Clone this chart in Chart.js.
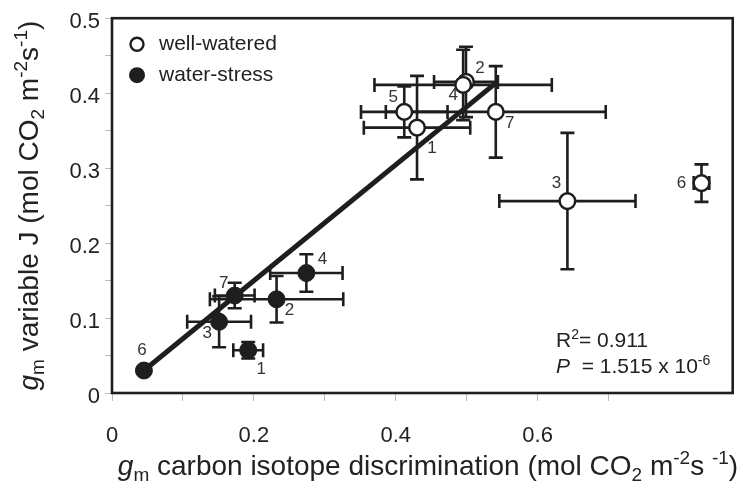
<!DOCTYPE html>
<html>
<head>
<meta charset="utf-8">
<script src="https://cdn.jsdelivr.net/npm/chart.js@4.4.1/dist/chart.umd.min.js"></script>
<style>
  html, body { margin: 0; padding: 0; background: #fff; }
  #wrap { width: 743px; height: 490px; }
</style>
</head>
<body>
<div id="wrap"><canvas id="gmChart" width="743" height="490"></canvas></div>
<script>
// well-watered plants (open circles), numbered 1..7
var wellIds   = [1, 2, 3, 4, 5, 6, 7];
var wellX     = [0.430, 0.499, 0.642, 0.495, 0.412, 0.831, 0.541];
var wellY     = [0.354, 0.415, 0.256, 0.411, 0.375, 0.280, 0.375];
var wellXErr  = [0.075, 0.045, 0.096, 0.125, 0.061, 0.011, 0.155];
var wellYErr  = [0.069, 0.047, 0.091, 0.047, 0.034, 0.025, 0.061];

// water-stressed plants (filled circles)
var stressIds  = [1, 2, 3, 4, 6, 7];
var stressX    = [0.192, 0.232, 0.151, 0.274, 0.045, 0.173];
var stressY    = [0.057, 0.125, 0.095, 0.160, 0.030, 0.130];
var stressXErr = [0.021, 0.094, 0.045, 0.051, 0.005, 0.028];
var stressYErr = [0.011, 0.031, 0.034, 0.025, 0.005, 0.017];

// regression line end points
var fitX = [0.045, 0.543];
var fitY = [0.030, 0.415];

var xTickLabels = ['0', '0.2', '0.4', '0.6'];
var yTickLabels = ['0', '0.1', '0.2', '0.3', '0.4', '0.5'];
var rSquared = '0.911';
var pValue = '1.515 x 10';
var pExp = '-6';

var ink = '#1e1e1e';
var txt = '#222';
var fam = '"Liberation Sans", Arial, Helvetica, sans-serif';

// where each number sits next to its marker (pixels)
var wellLabelOff   = { 1: [15, 21], 2: [14, -14], 3: [-11, -18], 4: [-10, 10], 5: [-11, -15], 6: [-20, 0], 7: [14, 11] };
var stressLabelOff = { 1: [13, 19], 2: [13, 11], 3: [-12, 12], 4: [16, -14], 6: [-2, -20], 7: [-11, -12] };

function pts(xs, ys) {
  return xs.map(function (x, i) { return { x: x, y: ys[i] }; });
}

function partFont(p, size) {
  var s = (p.k === 'sub' || p.k === 'sup') ? size * 0.68 : size;
  return (p.k === 'i' ? 'italic ' : '') + Math.round(s) + 'px ' + fam;
}
function richWidth(ctx, parts, size) {
  var w = 0;
  parts.forEach(function (p) { ctx.font = partFont(p, size); w += ctx.measureText(p.t).width; });
  return w;
}
function drawRich(ctx, parts, x, y, size) {
  var cx = x;
  ctx.textAlign = 'left';
  ctx.textBaseline = 'alphabetic';
  parts.forEach(function (p) {
    ctx.font = partFont(p, size);
    var dy = p.k === 'sub' ? size * 0.22 : (p.k === 'sup' ? -size * 0.4 : 0);
    ctx.fillText(p.t, cx, y + dy);
    cx += ctx.measureText(p.t).width;
  });
}

function errorBars(ctx, sx, sy, xs, ys, xe, ye) {
  var cap = 7;
  for (var i = 0; i < xs.length; i++) {
    var px = sx.getPixelForValue(xs[i]), py = sy.getPixelForValue(ys[i]);
    var x0 = sx.getPixelForValue(xs[i] - xe[i]), x1 = sx.getPixelForValue(xs[i] + xe[i]);
    var y0 = sy.getPixelForValue(ys[i] - ye[i]), y1 = sy.getPixelForValue(ys[i] + ye[i]);
    ctx.beginPath();
    ctx.moveTo(x0, py); ctx.lineTo(x1, py);
    ctx.moveTo(px, y0); ctx.lineTo(px, y1);
    ctx.moveTo(x0, py - cap); ctx.lineTo(x0, py + cap);
    ctx.moveTo(x1, py - cap); ctx.lineTo(x1, py + cap);
    ctx.moveTo(px - cap, y0); ctx.lineTo(px + cap, y0);
    ctx.moveTo(px - cap, y1); ctx.lineTo(px + cap, y1);
    ctx.stroke();
  }
}

function numberLabels(ctx, sx, sy, ids, xs, ys, off) {
  ctx.font = '17px ' + fam;
  ctx.fillStyle = '#333';
  ctx.textAlign = 'center';
  ctx.textBaseline = 'middle';
  for (var i = 0; i < ids.length; i++) {
    var o = off[ids[i]];
    ctx.fillText(String(ids[i]), sx.getPixelForValue(xs[i]) + o[0], sy.getPixelForValue(ys[i]) + o[1]);
  }
}

var decor = {
  id: 'decor',
  beforeDatasetsDraw: function (chart) {
    var ctx = chart.ctx, sx = chart.scales.x, sy = chart.scales.y;
    ctx.save();
    ctx.strokeStyle = ink;
    ctx.lineWidth = 2.6;
    errorBars(ctx, sx, sy, wellX, wellY, wellXErr, wellYErr);
    errorBars(ctx, sx, sy, stressX, stressY, stressXErr, stressYErr);
    ctx.restore();
  },
  afterDatasetsDraw: function (chart) {
    var ctx = chart.ctx, sx = chart.scales.x, sy = chart.scales.y, a = chart.chartArea;
    ctx.save();
    // frame
    ctx.strokeStyle = ink;
    ctx.lineWidth = 2.6;
    ctx.strokeRect(a.left, a.top, a.right - a.left, a.bottom - a.top);

    numberLabels(ctx, sx, sy, wellIds, wellX, wellY, wellLabelOff);
    numberLabels(ctx, sx, sy, stressIds, stressX, stressY, stressLabelOff);

    // legend
    var lx = a.left + 25, ly1 = a.top + 26, ly2 = a.top + 57;
    ctx.beginPath(); ctx.arc(lx, ly1, 6.5, 0, Math.PI * 2);
    ctx.fillStyle = '#fff'; ctx.fill(); ctx.lineWidth = 2.4; ctx.stroke();
    ctx.beginPath(); ctx.arc(lx, ly2, 8, 0, Math.PI * 2);
    ctx.fillStyle = ink; ctx.fill();
    ctx.fillStyle = txt;
    ctx.font = '21px ' + fam;
    ctx.textAlign = 'left'; ctx.textBaseline = 'middle';
    ctx.fillText('well-watered', lx + 22, ly1);
    ctx.fillText('water-stress', lx + 22, ly2);

    // statistics
    ctx.fillStyle = txt;
    drawRich(ctx, [{ t: 'R' }, { t: '2', k: 'sup' }, { t: '= ' + rSquared }], 556, 347, 21);
    drawRich(ctx, [{ t: 'P', k: 'i' }, { t: '  = ' + pValue }, { t: pExp, k: 'sup' }], 556, 373, 21);
    ctx.restore();
  },
  afterDraw: function (chart) {
    var ctx = chart.ctx, a = chart.chartArea;
    var size = 28;
    ctx.save();
    ctx.fillStyle = txt;
    var xt = [{ t: 'g', k: 'i' }, { t: 'm', k: 'sub' }, { t: ' carbon isotope discrimination (mol CO' }, { t: '2', k: 'sub' },
              { t: ' m' }, { t: '-2', k: 'sup' }, { t: 's ' }, { t: '-1', k: 'sup' }, { t: ')' }];
    var wx = richWidth(ctx, xt, size);
    drawRich(ctx, xt, 428 - wx / 2, 475, size);

    var yt = [{ t: 'g', k: 'i' }, { t: 'm', k: 'sub' }, { t: ' variable J (mol CO' }, { t: '2', k: 'sub' },
              { t: ' m' }, { t: '-2', k: 'sup' }, { t: 's' }, { t: '-1', k: 'sup' }, { t: ')' }];
    var wy = richWidth(ctx, yt, size);
    ctx.translate(38, (a.top + a.bottom) / 2);
    ctx.rotate(-Math.PI / 2);
    drawRich(ctx, yt, -wy / 2, 0, size);
    ctx.restore();
  }
};

new Chart(document.getElementById('gmChart'), {
  type: 'scatter',
  data: {
    datasets: [
      {
        label: 'fit', type: 'line', data: pts(fitX, fitY),
        borderColor: ink, borderWidth: 5, pointRadius: 0, fill: false, order: 3
      },
      {
        label: 'well-watered', data: pts(wellX, wellY),
        pointRadius: 7.8, pointBackgroundColor: '#fff', pointBorderColor: ink, pointBorderWidth: 2.5, order: 1
      },
      {
        label: 'water-stress', data: pts(stressX, stressY),
        pointRadius: 8.5, pointBackgroundColor: ink, pointBorderColor: ink, pointBorderWidth: 1, order: 2
      }
    ]
  },
  options: {
    responsive: false,
    animation: false,
    devicePixelRatio: 1,
    layout: { padding: { top: 13, right: 10, left: 0, bottom: 0 } },
    plugins: { legend: { display: false }, tooltip: { enabled: false } },
    scales: {
      x: {
        type: 'linear', min: 0, max: 0.875,
        afterFit: function (s) { s.height = 97; },
        afterBuildTicks: function (s) { s.ticks = s.ticks.filter(function (t) { return t.value <= 0.8001; }); },
        ticks: {
          stepSize: 0.1, autoSkip: false, maxRotation: 0, padding: 22, color: txt,
          font: { family: fam, size: 22 },
          callback: function (v) {
            var n = Math.round(v * 10);
            return (n % 2 === 0 && n / 2 < xTickLabels.length) ? xTickLabels[n / 2] : '';
          }
        },
        grid: { drawOnChartArea: false, drawTicks: true, tickLength: 8, color: '#bbb', lineWidth: 1 },
        border: { display: false }
      },
      y: {
        type: 'linear', min: 0, max: 0.5,
        afterFit: function (s) { s.width = 112; },
        ticks: {
          stepSize: 0.05, autoSkip: false, padding: 5, color: txt, labelOffset: 4,
          font: { family: fam, size: 22 },
          callback: function (v) {
            var n = Math.round(v * 20);
            return n % 2 === 0 ? yTickLabels[n / 2] : '';
          }
        },
        grid: { drawOnChartArea: false, drawTicks: true, tickLength: 7, color: '#bbb', lineWidth: 1 },
        border: { display: false }
      }
    }
  },
  plugins: [decor]
});
</script>
</body>
</html>
